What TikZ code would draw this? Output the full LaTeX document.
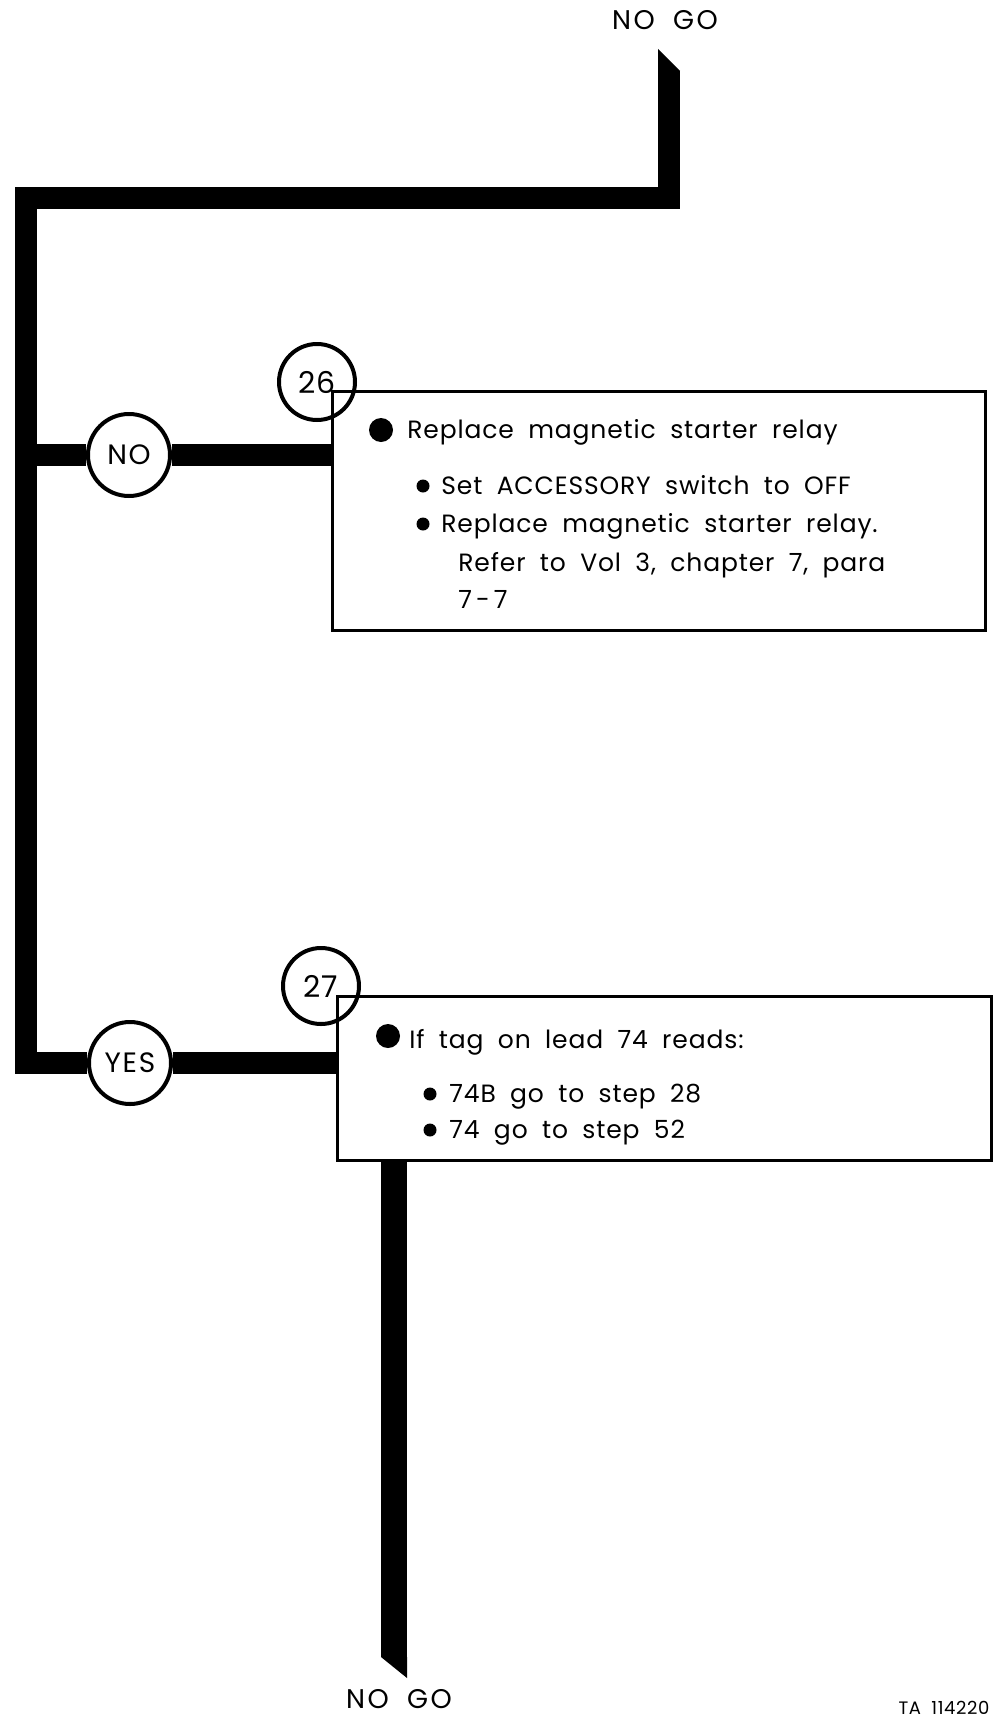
\documentclass[tikz,border=0pt]{standalone}
\usepackage{fontspec}
\setmainfont{Poppins}[LetterSpace=3.5, WordSpace=1.9]
\usetikzlibrary{calc, backgrounds}
\tikzset{
  bar/.style={line width=11pt, draw=black, line join=miter},
  ring/.style={circle, draw, line width=2pt, fill=white, inner sep=0pt,
               font=\fontsize{14}{14}\selectfont\addfontfeatures{LetterSpace=6}},
  answer/.style={ring, minimum size=41pt},
  stepno/.style={ring, minimum size=38pt, font=\fontsize{15}{15}\selectfont},
  panel/.style={rectangle, draw, line width=1.5pt, inner sep=0pt, outer sep=0pt,
                anchor=north west},
  txt/.style={anchor=base west, inner sep=0pt, font=\fontsize{12.5}{12.5}\selectfont},
  bigdot/.style={circle, fill, inner sep=0pt, minimum size=12pt},
  smalldot/.style={circle, fill, inner sep=0pt, minimum size=6.5pt},
  goal/.style={inner sep=0pt, font=\fontsize{13.5}{13.5}\selectfont\addfontfeatures{LetterSpace=9}},
  plate/.style={inner sep=0pt, anchor=base, font=\fontsize{9}{9}\selectfont},
}

\begin{document}
\begin{tikzpicture}[x=0.5pt, y=-0.5pt]
  \useasboundingbox (0,0) rectangle (999,1718);

  \node[goal] (nogotop) at (665,20) {NO GO};
  \node[goal] (nogobot) at (399,1699) {NO GO};
  \node[plate] (tanum) at (944,1714) {TA 114220};

  \coordinate (topend) at (669,71);
  \coordinate (corner) at (26,198);
  \coordinate (botend) at (394,1657);

  \node[answer] (no) at (129,455) {NO};
  \node[answer] (yes) at (130,1063) {YES};
  \node[stepno] (s26) at (317,382) {26};
  \node[stepno] (s27) at (321,986) {27};

  \node[panel, minimum width=326.5pt, minimum height=119.5pt] (box26) at (332,391) {};
  \node[panel, minimum width=327pt, minimum height=82pt] (box27) at (337,996) {};

  \begin{scope}[on background layer]
    \draw[bar] (topend) |- (corner) |- (yes);
    \draw[bar] (corner |- no) -- (no) -- (no -| box26.west);
    \draw[bar] (yes) -- (yes -| box27.west);
    \draw[bar, line width=13pt] (botend |- box27.south) -- (botend);
    \fill ($(topend)+(-11,0)$) -- ($(topend)+(-11,-22)$) -- ($(topend)+(11,0)$) -- cycle;
    \fill ($(botend)+(-13,0)$) -- ($(botend)+(13,0)$) -- ($(botend)+(13,21)$) -- cycle;
  \end{scope}

  \node[bigdot] (d26a) at (381,430) {};
  \node[txt] (t26a) at (407,438) {Replace magnetic starter relay};
  \node[smalldot] (d26b) at (423,486) {};
  \node[txt] (t26b) at (441,494) {Set ACCESSORY switch to OFF};
  \node[smalldot] (d26c) at (423,524) {};
  \node[txt] (t26c) at (441,532) {Replace magnetic starter relay.};
  \node[txt] (t26d) at (458,571) {Refer to Vol 3, chapter 7, para};
  \node[txt] (t26e) at (458,608) {\spaceskip=2pt 7 - 7};

  \node[bigdot] (d27a) at (388,1036) {};
  \node[txt] (t27a) at (409,1048) {If tag on lead 74 reads:};
  \node[smalldot] (d27b) at (430,1094) {};
  \node[txt] (t27b) at (449,1102) {74B go to step 28};
  \node[smalldot] (d27c) at (430,1130) {};
  \node[txt] (t27c) at (449,1138) {74 go to step 52};

\end{tikzpicture}
\end{document}
